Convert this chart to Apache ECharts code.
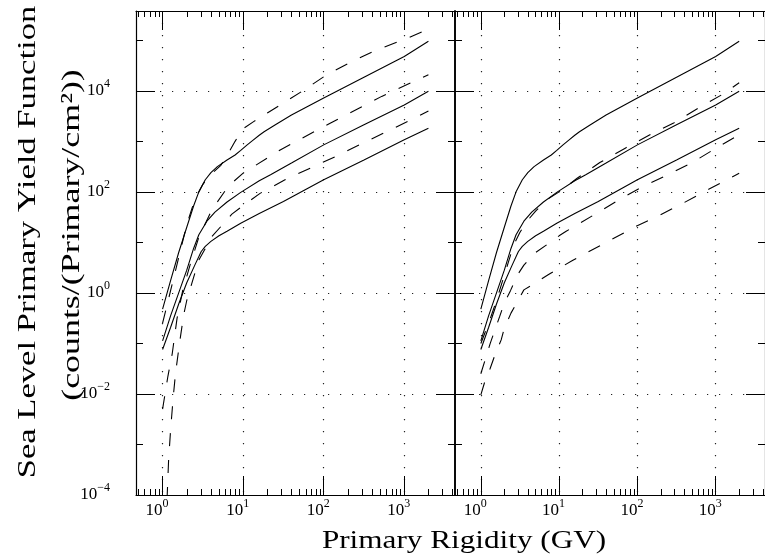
<!DOCTYPE html>
<html><head><meta charset="utf-8">
<script src="https://cdn.jsdelivr.net/npm/echarts@6/dist/echarts.min.js"></script>
<style>html,body{margin:0;padding:0;background:#fff}#c{width:765px;height:554px}</style>
</head><body><div id="c"></div>
<script>
// ---- axis extents (log10 units) and tick values ----
const X_MIN = -0.33, X_MAX = 3.63;
const Y_MIN = -4, Y_MAX = 5.58;
const xMajor = [0, 1, 2, 3];
const minorMultipliers = [2, 3, 4, 5, 6, 7, 8, 9];
const minorDecades = [-1, 0, 1, 2, 3];
const yMajor = [-4, -2, 0, 2, 4];
const yMinor = [-3, -1, 1, 3, 5];

// ---- data: log10(rigidity GV) and log10(yield) ----
// solid curves (same in both panels)
const s1X = [0,0.1,0.2,0.3,0.385,0.45,0.53,0.6,0.68,0.8,0.9,0.97,1.05,1.12,1.2,1.26,1.4,1.6,2.0,2.5,3.0,3.3];
const s1Y = [-0.32,0.25,0.8,1.3,1.72,2.0,2.24,2.38,2.5,2.63,2.73,2.82,2.93,3.02,3.12,3.19,3.33,3.52,3.86,4.27,4.68,4.98];
const s2X = [0,0.1,0.2,0.3,0.385,0.45,0.55,0.65,0.8,0.97,1.2,1.34,1.6,2.0,2.5,3.0,3.3];
const s2Y = [-0.95,-0.45,0.0,0.45,0.88,1.15,1.42,1.6,1.8,1.99,2.22,2.34,2.57,2.93,3.33,3.72,3.99];
const s3X = [0,0.1,0.2,0.3,0.4,0.48,0.53,0.6,0.7,0.8,0.97,1.2,1.5,2.0,2.5,3.0,3.3];
const s3Y = [-1.12,-0.68,-0.22,0.2,0.55,0.82,0.92,1.02,1.13,1.22,1.38,1.57,1.81,2.24,2.63,3.03,3.26];
// dashed curves, left panel
const l1X = [0,0.1,0.2,0.3,0.4,0.5,0.59,0.72,0.8,0.9,0.99,1.13,1.3,1.73,2.04,2.35,2.66,2.99,3.3];
const l1Y = [-0.6,0.05,0.7,1.35,1.85,2.15,2.33,2.52,2.72,3.0,3.24,3.39,3.56,3.99,4.32,4.58,4.81,5.01,5.22];
const l2X = [0,0.066,0.12,0.18,0.25,0.35,0.45,0.61,0.82,1.0,1.46,2.08,2.72,3.3];
const l2Y = [-2.3,-1.65,-1.2,-0.5,0.05,0.6,1.1,1.64,2.12,2.37,2.83,3.36,3.89,4.32];
const l3X = [0.055,0.075,0.1,0.13,0.16,0.21,0.26,0.3,0.35,0.45,0.61,0.86,1.07,1.21,1.52,2.16,2.83,3.14,3.3];
const l3Y = [-4.1,-3.3,-2.7,-2.1,-1.6,-1.0,-0.45,-0.15,0.12,0.65,1.11,1.56,1.81,1.97,2.24,2.71,3.23,3.47,3.6];
// dashed curves, right panel
const r1X = [0,0.1,0.2,0.3,0.42,0.5,0.59,0.7,0.84,1.0,1.09,1.23,1.52,1.85,2.16,2.47,2.78,3.11,3.3];
const r1Y = [-1.0,-0.6,-0.15,0.35,0.95,1.2,1.42,1.62,1.84,2.0,2.10,2.27,2.58,2.87,3.13,3.37,3.66,3.95,4.16];
const r2X = [0,0.12,0.18,0.24,0.3,0.38,0.47,0.55,0.69,0.84,1.0,1.09,1.44,1.75,2.06,2.39,2.7,3.01,3.3];
const r2Y = [-1.6,-1.0,-0.73,-0.47,-0.2,0.05,0.36,0.55,0.79,0.95,1.13,1.22,1.54,1.83,2.10,2.34,2.58,2.87,3.13];
const r3X = [0,0.05,0.12,0.18,0.26,0.3,0.385,0.47,0.55,0.69,0.86,1.0,1.17,1.32,1.65,1.96,2.29,2.6,2.91,3.3];
const r3Y = [-2.02,-1.76,-1.49,-1.23,-0.93,-0.7,-0.4,-0.17,0.06,0.19,0.36,0.49,0.64,0.77,1.04,1.30,1.54,1.79,2.05,2.37];

const xTitle = 'Primary Rigidity (GV)';
const yTitle1 = 'Sea Level Primary Yield Function';
const yTitle2 = '(counts/(Primary/cm²))';

// ---- build ----
const FONT = 'Liberation Serif';
const INK = '#000';
const xMinor = [];
minorDecades.forEach(d => minorMultipliers.forEach(k => {
  const v = d + Math.log10(k);
  if (v > X_MIN && v < X_MAX) xMinor.push(v);
}));
const fmt = v => { const e = Math.round(v); return '{b|10}{s|' + (e < 0 ? '\u2212' + (-e) : e) + '}'; };
const rich = {
  b: {fontFamily: FONT, fontSize: 17, color: INK},
  s: {fontFamily: FONT, fontSize: 12, color: INK, padding: [0, 0, 14, 0]}
};
const dotted = {color: '#222', width: 1.2, type: [1.2, 10.8]};
const tickStyle = {color: INK, width: 1};

function xAxesFor(gi) {
  const base = {type: 'value', gridIndex: gi, min: X_MIN, max: X_MAX, splitNumber: 1};
  return [
    Object.assign({}, base, {position: 'bottom',
      axisLine: {show: true, onZero: false, lineStyle: {color: INK, width: 1.2}},
      axisTick: {show: true, inside: true, length: 19, customValues: xMajor, lineStyle: tickStyle},
      axisLabel: {show: true, customValues: xMajor, margin: 3, formatter: fmt, rich: rich, padding: [0, 11, 0, 0]},
      splitLine: {show: true, lineStyle: dotted}}),
    Object.assign({}, base, {position: 'bottom',
      axisLine: {show: false, onZero: false},
      axisTick: {show: true, inside: true, length: 6, customValues: xMinor, lineStyle: tickStyle},
      axisLabel: {show: false}, splitLine: {show: false}}),
    Object.assign({}, base, {position: 'top',
      axisLine: {show: true, onZero: false, lineStyle: {color: INK, width: 1.2}},
      axisTick: {show: true, inside: true, length: 19, customValues: xMajor, lineStyle: tickStyle},
      axisLabel: {show: false}, splitLine: {show: false}}),
    Object.assign({}, base, {position: 'top',
      axisLine: {show: false, onZero: false},
      axisTick: {show: true, inside: true, length: 6, customValues: xMinor, lineStyle: tickStyle},
      axisLabel: {show: false}, splitLine: {show: false}})
  ];
}
function yAxesFor(gi, labels) {
  const base = {type: 'value', gridIndex: gi, min: Y_MIN, max: Y_MAX, splitNumber: 1};
  return [
    Object.assign({}, base, {position: 'left',
      axisLine: {show: true, onZero: false, lineStyle: {color: INK, width: gi === 1 ? 1.6 : 1.2}},
      axisTick: {show: true, inside: true, length: 19, customValues: yMajor, lineStyle: tickStyle},
      axisLabel: {show: labels, customValues: yMajor, margin: 26, formatter: fmt, rich: rich},
      splitLine: {show: true, lineStyle: dotted}}),
    Object.assign({}, base, {position: 'left',
      axisLine: {show: false, onZero: false},
      axisTick: {show: true, inside: true, length: 7, customValues: yMinor, lineStyle: tickStyle},
      axisLabel: {show: false}, splitLine: {show: false}}),
    Object.assign({}, base, {position: 'right',
      axisLine: {show: true, onZero: false, lineStyle: {color: INK, width: gi === 0 ? 1.6 : 1.2}},
      axisTick: {show: true, inside: true, length: 19, customValues: yMajor, lineStyle: tickStyle},
      axisLabel: {show: false}, splitLine: {show: false}}),
    Object.assign({}, base, {position: 'right',
      axisLine: {show: false, onZero: false},
      axisTick: {show: true, inside: true, length: 7, customValues: yMinor, lineStyle: tickStyle},
      axisLabel: {show: false}, splitLine: {show: false}})
  ];
}
function curve(xs, ys, dashed, gi) {
  return {
    type: 'line', xAxisIndex: gi * 4, yAxisIndex: gi * 4,
    data: xs.map((x, i) => [x, ys[i]]),
    symbol: 'none', smooth: false, clip: true, silent: true,
    lineStyle: {color: INK, width: 1.1, type: dashed ? [13, 14] : 'solid'}
  };
}

const option = {
  animation: false,
  backgroundColor: '#fff',
  grid: [
    {left: 136, top: 11, width: 319, height: 484},
    {left: 455, top: 11, width: 319, height: 484}
  ],
  xAxis: xAxesFor(0).concat(xAxesFor(1)),
  yAxis: yAxesFor(0, true).concat(yAxesFor(1, false)),
  series: [
    curve(s1X, s1Y, false, 0), curve(s2X, s2Y, false, 0), curve(s3X, s3Y, false, 0),
    curve(l1X, l1Y, true, 0), curve(l2X, l2Y, true, 0), curve(l3X, l3Y, true, 0),
    curve(s1X, s1Y, false, 1), curve(s2X, s2Y, false, 1), curve(s3X, s3Y, false, 1),
    curve(r1X, r1Y, true, 1), curve(r2X, r2Y, true, 1), curve(r3X, r3Y, true, 1)
  ],
  graphic: [
    {type: 'text', x: 464, y: 541, scaleX: 1.2,
     style: {text: xTitle, font: '26px "Liberation Serif"', fill: INK, align: 'center', verticalAlign: 'middle'}},
    {type: 'text', x: 28, y: 242, rotation: Math.PI / 2, scaleX: 1.33,
     style: {text: yTitle1, font: '26px "Liberation Serif"', fill: INK, align: 'center', verticalAlign: 'middle'}},
    {type: 'text', x: 72, y: 235, rotation: Math.PI / 2, scaleX: 1.38,
     style: {text: yTitle2, font: '26px "Liberation Serif"', fill: INK, align: 'center', verticalAlign: 'middle'}}
  ]
};
echarts.init(document.getElementById('c'), null, {renderer: 'canvas'}).setOption(option);
</script></body></html>
